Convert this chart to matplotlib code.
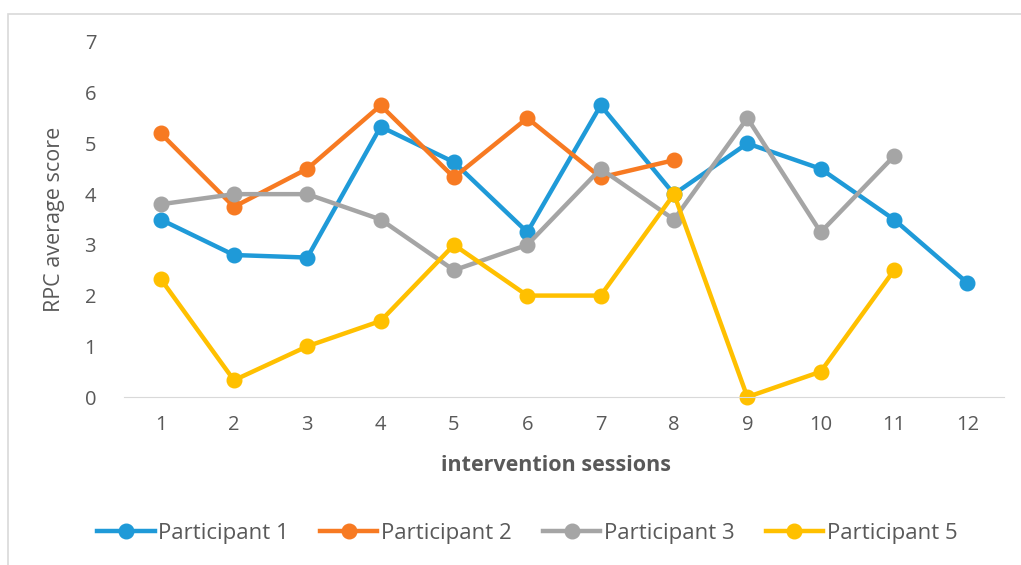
import matplotlib.pyplot as plt
from matplotlib.patches import Rectangle

plt.rcParams['font.family'] = ['Open Sans', 'DejaVu Sans']

# sessions and scores
sessions = list(range(1, 13))
p1 = [3.5, 2.8, 2.75, 5.33, 4.63, 3.25, 5.75, 4.0, 5.0, 4.5, 3.5, 2.25]
p2 = [5.2, 3.75, 4.5, 5.75, 4.33, 5.5, 4.33, 4.67]
p3 = [3.8, 4.0, 4.0, 3.5, 2.5, 3.0, 4.5, 3.5, 5.5, 3.25, 4.75]
p5 = [2.33, 0.33, 1.0, 1.5, 3.0, 2.0, 2.0, 4.0, 0.0, 0.5, 2.5]

series = [
    ('Participant 1', p1, '#1F9AD8'),
    ('Participant 2', p2, '#F77A22'),
    ('Participant 3', p3, '#A5A5A5'),
    ('Participant 5', p5, '#FFC000'),
]

txt = '#595959'

fig = plt.figure(figsize=(10.21, 5.65), dpi=100)
ax = fig.add_axes([0.1214, 0.2973, 0.862, 0.6284])

# thin chart border (cut off at right/bottom like the picture)
fig.patches.append(Rectangle((8 / 1021, -0.05), 1.1, 1 - 14 / 565 + 0.05,
                             transform=fig.transFigure, fill=False,
                             edgecolor='#D9D9D9', linewidth=1.2))

for name, vals, col in series:
    ax.plot(sessions[:len(vals)], vals, color=col, linewidth=3.2, marker='o',
            markersize=10.5, label=name, clip_on=False)

ax.set_xlim(0.5, 12.5)
ax.set_ylim(0, 7)
ax.set_xticks(sessions)
ax.set_yticks(range(0, 8))
for s in ['top', 'right', 'left']:
    ax.spines[s].set_visible(False)
ax.spines['bottom'].set_color('#D9D9D9')
ax.tick_params(axis='both', length=0, labelsize=14.5, colors=txt)
ax.tick_params(axis='y', pad=20)
ax.tick_params(axis='x', pad=13)

ax.set_xlabel('intervention sessions', fontsize=15.5, fontweight='bold',
              color=txt)
ax.xaxis.set_label_coords(0.491, -(465 - 397) / 355, transform=ax.transAxes)
ax.xaxis.label.set_va('center')
ax.set_ylabel('RPC average score', fontsize=15.5, color=txt)
ax.yaxis.set_label_coords(-(124 - 55) / 880, 0.5, transform=ax.transAxes)
ax.yaxis.label.set_va('center')

fig.legend(loc='center', bbox_to_anchor=(527 / 1021, 1 - 533 / 565), ncol=4,
           frameon=False, fontsize=16, handlelength=2.6, columnspacing=1.4,
           handletextpad=0.15, labelcolor=txt)

fig.savefig('out.png', dpi=100)
